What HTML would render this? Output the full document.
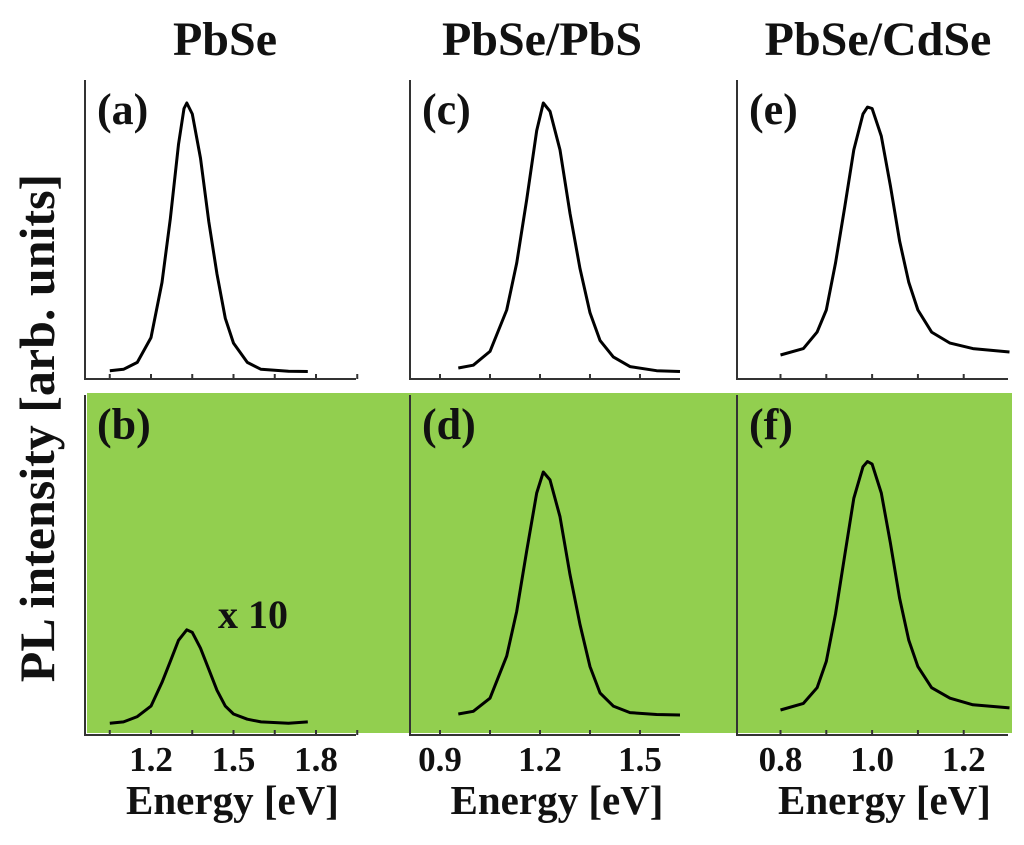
<!DOCTYPE html>
<html><head><meta charset="utf-8"><style>
html,body{margin:0;padding:0;background:#fff;}
svg{display:block;}
text{font-family:"Liberation Serif",serif;font-weight:bold;fill:#111;}
</style></head><body>
<svg id="chart" width="1024" height="845" viewBox="0 0 1024 845" xmlns="http://www.w3.org/2000/svg">
<rect x="87" y="393" width="925" height="340" fill="#92cf4f"/>
<g id="g"></g>
<text transform="translate(54,428) rotate(-90)" text-anchor="middle" font-size="50">PL intensity [arb. units]</text>
</svg>
<script>
// Panel a (PbSe, top)
const energyA=[1.05,1.10,1.15,1.20,1.24,1.27,1.30,1.32,1.33,1.35,1.38,1.41,1.44,1.47,1.50,1.55,1.60,1.70,1.77];
const valuesA=[0.03,0.035,0.06,0.15,0.35,0.58,0.85,0.98,1.0,0.96,0.8,0.57,0.38,0.22,0.13,0.06,0.035,0.028,0.027];
const energyB=[1.05,1.10,1.15,1.20,1.24,1.27,1.30,1.33,1.35,1.38,1.41,1.44,1.47,1.50,1.55,1.60,1.70,1.77];
const valuesB=[0.045,0.05,0.07,0.11,0.2,0.28,0.36,0.40,0.39,0.33,0.25,0.17,0.11,0.08,0.06,0.05,0.045,0.05];
const energyC=[0.955,1.0,1.05,1.10,1.13,1.16,1.19,1.21,1.23,1.26,1.29,1.32,1.35,1.38,1.42,1.47,1.55,1.62];
const valuesC=[0.04,0.05,0.1,0.25,0.42,0.65,0.9,1.0,0.97,0.83,0.6,0.4,0.24,0.14,0.08,0.045,0.03,0.027];
const energyD=[0.955,1.0,1.05,1.10,1.13,1.16,1.19,1.21,1.23,1.26,1.29,1.32,1.35,1.38,1.42,1.47,1.55,1.62];
const valuesD=[0.08,0.09,0.14,0.3,0.47,0.7,0.92,1.0,0.97,0.83,0.61,0.42,0.26,0.16,0.11,0.085,0.078,0.076];
const energyE=[0.80,0.85,0.88,0.90,0.92,0.94,0.96,0.98,0.99,1.00,1.02,1.04,1.06,1.08,1.10,1.13,1.17,1.22,1.30];
const valuesE=[0.087,0.11,0.17,0.25,0.42,0.62,0.83,0.96,0.985,0.98,0.88,0.7,0.5,0.35,0.25,0.17,0.13,0.11,0.098];
const energyF=[0.80,0.85,0.88,0.90,0.92,0.94,0.96,0.98,0.99,1.00,1.02,1.04,1.06,1.08,1.10,1.13,1.17,1.22,1.30];
const valuesF=[0.095,0.12,0.18,0.28,0.46,0.68,0.9,1.02,1.04,1.03,0.92,0.73,0.52,0.36,0.26,0.18,0.14,0.115,0.103];
const ticks1=[1.05,1.2,1.35,1.5,1.65,1.8,1.95];
const ticks2=[0.9,1.05,1.2,1.35,1.5];
const ticks3=[0.8,0.9,1.0,1.1,1.2];
const tickLabels1=["1.2","1.5","1.8"];
const tickLabels2=["0.9","1.2","1.5"];
const tickLabels3=["0.8","1.0","1.2"];
const titles=["PbSe","PbSe/PbS","PbSe/CdSe"];

const NS="http://www.w3.org/2000/svg";
const g=document.getElementById('g');
function mk(tag,attrs){const e=document.createElementNS(NS,tag);for(const k in attrs)e.setAttribute(k,attrs[k]);g.appendChild(e);return e;}
const cols=[
 {x0:85,x1:356,e0:0.96,ppe:275,ticks:ticks1,labels:tickLabels1,tx:225,top:[energyA,valuesA,"a"],bot:[energyB,valuesB,"b"]},
 {x0:410,x1:680,e0:0.81,ppe:333.3,ticks:ticks2,labels:tickLabels2,tx:542,top:[energyC,valuesC,"c"],bot:[energyD,valuesD,"d"]},
 {x0:737,x1:1008,e0:0.705,ppe:458,ticks:ticks3,labels:tickLabels3,tx:878,top:[energyE,valuesE,"e"],bot:[energyF,valuesF,"f"]}
];
const yTop=v=>379-v*276;
const yBot=v=>735-v*263;
cols.forEach((c,i)=>{
 const xs=e=>c.x0+(e-c.e0)*c.ppe;
 let t=mk('text',{x:c.tx,y:55,'text-anchor':'middle','font-size':48});t.textContent=titles[i];
 
 
 [[80,379,yTop,c.top],[395,735,yBot,c.bot]].forEach(([ya,yb,ys,ser])=>{
  let ax=mk('path',{d:`M${c.x0},${ya}V${yb}H${c.x1}`,fill:'none',stroke:'#333','stroke-width':2});
  
  
  c.ticks.forEach(tv=>{const tk=mk('line',{x1:xs(tv),x2:xs(tv),y1:yb,y2:yb-5,stroke:'#333','stroke-width':2});
   
   });
  const d=ser[0].map((e,k)=>(k?'L':'M')+xs(e).toFixed(1)+','+ys(ser[1][k]).toFixed(1)).join('');
  const p=mk('path',{d:d,fill:'none',stroke:'#000','stroke-width':3,'stroke-linejoin':'round'});
  
  
  const lb=mk('text',{x:c.x0+12,y:ya+44,'font-size':44});lb.textContent='('+ser[2]+')';
  
  
 });
 c.labels.forEach(l=>{const tl=mk('text',{x:xs(parseFloat(l)),y:771,'text-anchor':'middle','font-size':35});tl.textContent=l;
  
  });
 const xt=mk('text',{x:(c.x0+c.x1)/2+12,y:814,'text-anchor':'middle','font-size':41});xt.textContent='Energy [eV]';
 
 
});
const x10=mk('text',{x:218,y:628,'font-size':40});x10.textContent='x 10';


</script>
</body></html>
